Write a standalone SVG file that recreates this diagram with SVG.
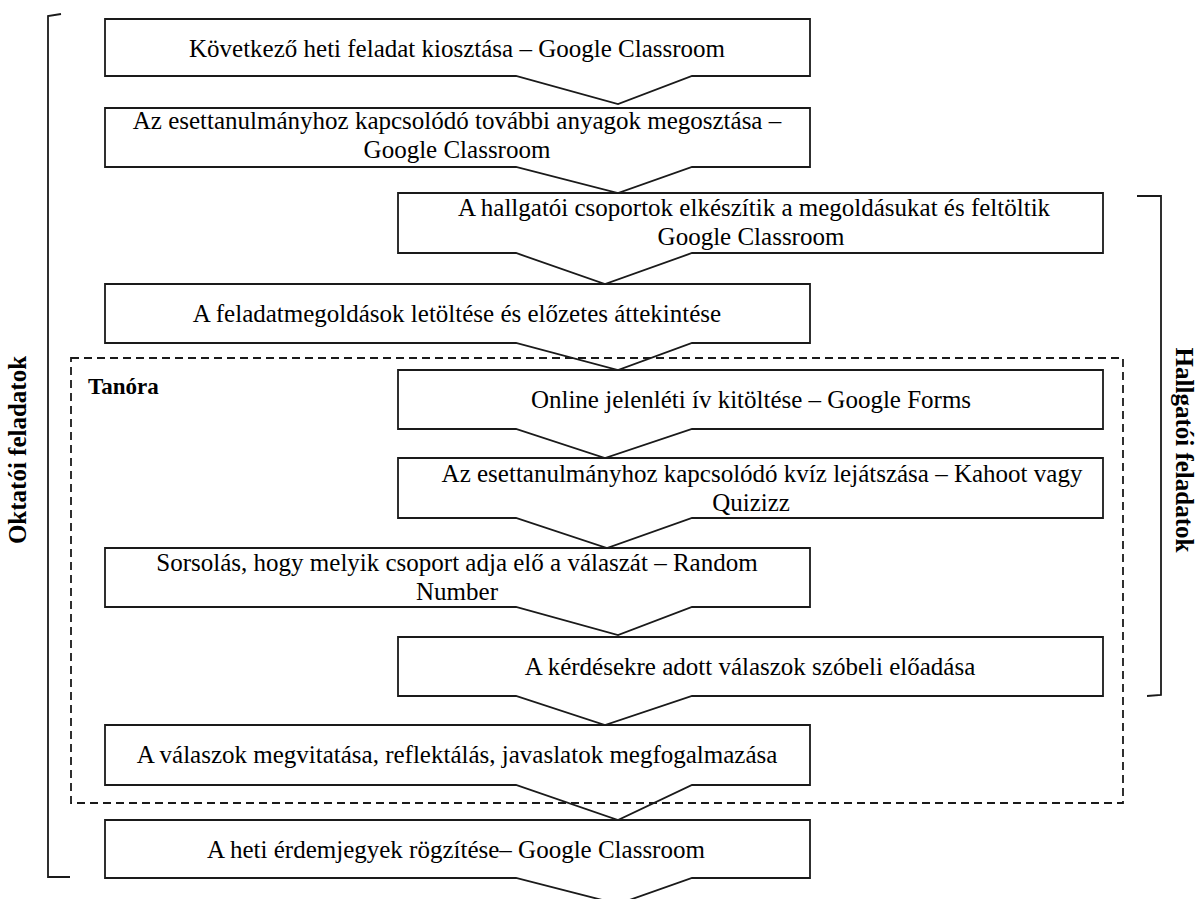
<svg xmlns="http://www.w3.org/2000/svg" width="1196" height="899" viewBox="0 0 1196 899">
<style>
.box{fill:#fff;stroke:#1a1a1a;stroke-width:1.8;stroke-linejoin:miter}
.t{font-family:"Liberation Serif","Times New Roman",serif;font-size:25px;fill:#000;text-anchor:middle}
.b{font-family:"Liberation Serif","Times New Roman",serif;font-weight:bold;fill:#000}
.br{fill:none;stroke:#1a1a1a;stroke-width:1.8}
.dash{fill:none;stroke:#1a1a1a;stroke-width:1.8;stroke-dasharray:8 5}
</style>
<rect width="1196" height="899" fill="#fff"/>
<g id="brackets">
<path class="br" d="M61,14 L48,16 L48,877 L70,877"/>
<path class="br" d="M1137,196 L1161,196 L1161,695 L1147,696"/>
</g>
<g id="label-oktatoi"><text class="b" font-size="25" text-anchor="middle" transform="translate(26,450) rotate(-90)">Oktatói feladatok</text></g>
<g id="label-hallgatoi"><text class="b" font-size="25" text-anchor="middle" transform="translate(1176,450) rotate(90)">Hallgatói feladatok</text></g>
<g id="connectors"></g>
<g id="n1"><path class="box" d="M105,19 H810 V76 H692 L618,104 L516,76 H105 Z"/><text class="t" x="457" y="57" font-size="25.6">Következő heti feladat kiosztása – Google Classroom</text></g>
<g id="n2"><path class="box" d="M105,108 H810 V167 H692 L618,193 L516,167 H105 Z"/><text class="t" x="457" y="129">Az esettanulmányhoz kapcsolódó további anyagok megosztása –</text><text class="t" x="457" y="158">Google Classroom</text></g>
<g id="n3"><path class="box" d="M398,193 H1103 V253 H692 L605,284 L516,253 H398 Z"/><text class="t" x="754" y="216">A hallgatói csoportok elkészítik a megoldásukat és feltöltik</text><text class="t" x="751" y="245">Google Classroom</text></g>
<g id="n4"><path class="box" d="M105,284 H810 V343 H692 L618,370 L516,343 H105 Z"/><text class="t" x="457" y="322">A feladatmegoldások letöltése és előzetes áttekintése</text></g>
<g id="n5"><path class="box" d="M398,370 H1103 V429 H692 L605,458 L516,429 H398 Z"/><text class="t" x="751" y="408">Online jelenléti ív kitöltése – Google Forms</text></g>
<g id="n6"><path class="box" d="M398,458 H1103 V518 H692 L607,548 L516,518 H398 Z"/><text class="t" x="762" y="482">Az esettanulmányhoz kapcsolódó kvíz lejátszása – Kahoot vagy</text><text class="t" x="751" y="511">Quizizz</text></g>
<g id="n7"><path class="box" d="M105,548 H810 V607 H692 L618,635 L516,607 H105 Z"/><text class="t" x="457" y="571">Sorsolás, hogy melyik csoport adja elő a válaszát – Random</text><text class="t" x="457" y="600">Number</text></g>
<g id="n8"><path class="box" d="M398,637 H1103 V696 H692 L605,725 L516,696 H398 Z"/><text class="t" x="750" y="675">A kérdésekre adott válaszok szóbeli előadása</text></g>
<g id="n9"><path class="box" d="M105,725 H810 V785 H692 L618,820 L516,785 H105 Z"/><text class="t" x="457" y="763">A válaszok megvitatása, reflektálás, javaslatok megfogalmazása</text></g>
<g id="n10"><path class="box" d="M105,820 H810 V878 H692 L618,904 L516,878 H105 Z"/><text class="t" x="456" y="858" font-size="25.6">A heti érdemjegyek rögzítése– Google Classroom</text></g>
<g id="tanora"><rect class="dash" x="71" y="358" width="1052" height="445"/><text class="b" font-size="23" x="88" y="394">Tanóra</text></g>
</svg>
